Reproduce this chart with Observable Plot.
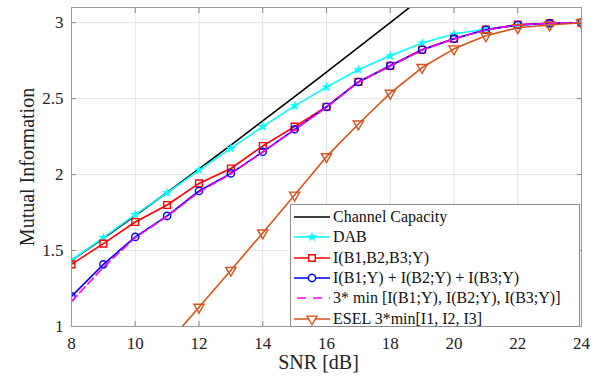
<!DOCTYPE html>
<html>
<head>
<meta charset="utf-8">
<script src="https://cdn.jsdelivr.net/npm/d3@7"></script>
<script src="https://cdn.jsdelivr.net/npm/@observablehq/plot@0.6"></script>
<style>
  html, body { margin: 0; padding: 0; background: #fff; }
  #wrap { position: relative; width: 602px; height: 381px; font-family: "Liberation Serif", "Times New Roman", serif; }
  #wrap svg text { font-family: "Liberation Serif", "Times New Roman", serif !important; font-variant: normal !important; }
  #legend { position: absolute; left: 290px; top: 204px; width: 290px; height: 123px; background: #fff; border: 1px solid #8c8c8c; box-sizing: border-box; padding-top: 2px; }
  .row { display: flex; align-items: center; height: 20.3px; font-size: 16px; color: #111; white-space: nowrap; }
  .row svg { flex: none; margin-left: 2px; margin-right: 2px; }
</style>
</head>
<body>
<div id="wrap"></div>
<script>
// ---- data ----
const snr = [8, 9, 10, 11, 12, 13, 14, 15, 16, 17, 18, 19, 20, 21, 22, 23, 24];
const capacitySnr = [8, 9, 10, 11, 12, 13, 14, 15, 16, 17, 18, 19];
const capacity = [1.435, 1.580, 1.730, 1.882, 2.037, 2.194, 2.353, 2.514, 2.675, 2.838, 3.001, 3.165];
const dab = [1.436, 1.585, 1.737, 1.880, 2.030, 2.173, 2.316, 2.452, 2.576, 2.690, 2.782, 2.866, 2.925, 2.958, 2.982, 2.995, 3.0];
const iJoint = [1.409, 1.546, 1.688, 1.800, 1.942, 2.040, 2.188, 2.316, 2.447, 2.610, 2.716, 2.822, 2.894, 2.954, 2.987, 2.996, 3.0];
const iSum = [1.198, 1.409, 1.590, 1.728, 1.892, 2.008, 2.150, 2.298, 2.445, 2.610, 2.716, 2.822, 2.894, 2.954, 2.985, 2.996, 3.0];
const minBound = [1.165, 1.390, 1.585, 1.725, 1.885, 2.005, 2.148, 2.295, 2.443, 2.608, 2.714, 2.820, 2.893, 2.953, 2.985, 2.996, 3.0];
const eselSnr = [11, 12, 13, 14, 15, 16, 17, 18, 19, 20, 21, 22, 23, 24];
const esel = [0.885, 1.127, 1.370, 1.616, 1.865, 2.118, 2.333, 2.536, 2.705, 2.828, 2.914, 2.967, 2.985, 3.0];
const xTicks = [8, 10, 12, 14, 16, 18, 20, 22, 24];
const yTicks = [1, 1.5, 2, 2.5, 3];
const labels = ["Channel Capacity", "DAB", "I(B1,B2,B3;Y)", "I(B1;Y) + I(B2;Y) + I(B3;Y)", "3* min [I(B1;Y), I(B2;Y), I(B3;Y)]", "ESEL 3*min[I1, I2, I3]"];
const colors = ["#000000", "#00FFFF", "#FF0000", "#0000FF", "#FF00FF", "#D95319"];

const zip = (xs, ys) => xs.map((x, i) => ({x, y: ys[i]}));
const capData = zip(capacitySnr, capacity);
const dabData = zip(snr, dab);
const jointData = zip(snr, iJoint);
const sumData = zip(snr, iSum);
const minData = zip(snr, minBound);
const eselData = zip(eselSnr, esel);

const serif = '"Liberation Serif", "Times New Roman", serif';
const noText = () => "";

const chart = Plot.plot({
  width: 602,
  height: 381,
  marginLeft: 71,
  marginRight: 21,
  marginTop: 7,
  marginBottom: 55,
  style: {fontFamily: serif, fontSize: "17px", background: "#fff", color: "#222"},
  x: {domain: [8, 24], ticks: xTicks, label: null},
  y: {domain: [1, 3.1], ticks: yTicks, label: null},
  marks: [
    Plot.gridX(xTicks, {stroke: "#e3e3e3", strokeOpacity: 1}),
    Plot.gridY(yTicks, {stroke: "#e3e3e3", strokeOpacity: 1}),
    Plot.axisX({ticks: xTicks, tickSize: 0, tickPadding: 10, fontSize: 17, fontFamily: serif, fontVariant: "normal", tickFormat: d => d}),
    Plot.axisY({ticks: yTicks, tickSize: 0, tickPadding: 8, fontSize: 17, fontFamily: serif, fontVariant: "normal", tickFormat: d => d}),
    // inward tick marks on all four sides
    Plot.axisX({ticks: xTicks, anchor: "bottom", tickSize: 5, dy: -5, tickFormat: noText, label: null, stroke: "#888"}),
    Plot.axisX({ticks: xTicks, anchor: "top", tickSize: 5, dy: 5, tickFormat: noText, label: null, stroke: "#888"}),
    Plot.axisY({ticks: yTicks, anchor: "left", tickSize: 5, dx: 5, tickFormat: noText, label: null, stroke: "#888"}),
    Plot.axisY({ticks: yTicks, anchor: "right", tickSize: 5, dx: -5, tickFormat: noText, label: null, stroke: "#888"}),
    Plot.line(capData, {x: "x", y: "y", stroke: colors[0], strokeWidth: 1.6, clip: true}),
    Plot.line(dabData, {x: "x", y: "y", stroke: colors[1], strokeWidth: 1.6, clip: true}),
    Plot.dot(dabData, {x: "x", y: "y", symbol: "star", fill: colors[1], r: 3.2, clip: true}),
    Plot.line(jointData, {x: "x", y: "y", stroke: colors[2], strokeWidth: 1.6, clip: true}),
    Plot.dot(jointData, {x: "x", y: "y", symbol: "square", stroke: colors[2], fill: "none", strokeWidth: 1.4, r: 3.8, clip: true}),
    Plot.line(sumData, {x: "x", y: "y", stroke: colors[3], strokeWidth: 1.6, clip: true}),
    Plot.dot(sumData, {x: "x", y: "y", symbol: "circle", stroke: colors[3], fill: "none", strokeWidth: 1.4, r: 3.6, clip: true}),
    Plot.line(minData, {x: "x", y: "y", stroke: colors[4], strokeWidth: 1.6, strokeDasharray: "8,4", clip: true}),
    Plot.line(eselData, {x: "x", y: "y", stroke: colors[5], strokeWidth: 1.6, clip: true}),
    Plot.dot(eselData, {x: "x", y: "y", symbol: "triangle", rotate: 180, stroke: colors[5], fill: "none", strokeWidth: 1.4, r: 3.8, clip: true}),
    Plot.frame({stroke: "#999", strokeWidth: 1}),
    Plot.text(["SNR [dB]"], {frameAnchor: "bottom", lineAnchor: "middle", textAnchor: "middle", dy: 36, dx: -8, fontSize: 20, fontFamily: serif, fill: "#222"}),
    Plot.text(["Mutual Information"], {frameAnchor: "left", lineAnchor: "middle", textAnchor: "middle", dx: -44, rotate: -90, fontSize: 20, fontFamily: serif, fill: "#222"})
  ]
});

const wrap = document.getElementById("wrap");
wrap.appendChild(chart);

// legend (overlay inside plot area, lower right)
const legend = document.createElement("div");
legend.id = "legend";
labels.forEach((lab, i) => {
  const row = document.createElement("div");
  row.className = "row";
  const svg = d3.create("svg").attr("width", 38).attr("height", 14);
  const c = colors[i];
  const line = svg.append("line").attr("x1", 1).attr("x2", 37).attr("y1", 7).attr("y2", 7)
    .attr("stroke", c).attr("stroke-width", 1.6);
  if (i === 4) line.attr("stroke-dasharray", "9,7").attr("x1", 4);
  const sym = [null, d3.symbolStar, d3.symbolSquare, d3.symbolCircle, null, d3.symbolTriangle][i];
  if (sym) {
    const size = i === 1 ? Math.PI * 3.2 * 3.2 : Math.PI * 3.7 * 3.7;
    const p = svg.append("path").attr("d", d3.symbol(sym, size)())
      .attr("transform", `translate(19,7)${i === 5 ? " rotate(180)" : ""}`);
    if (i === 1) p.attr("fill", c);
    else p.attr("fill", "#fff").attr("stroke", c).attr("stroke-width", 1.4);
  }
  row.appendChild(svg.node());
  const span = document.createElement("span");
  span.textContent = lab;
  row.appendChild(span);
  legend.appendChild(row);
});
wrap.appendChild(legend);
</script>
</body>
</html>
